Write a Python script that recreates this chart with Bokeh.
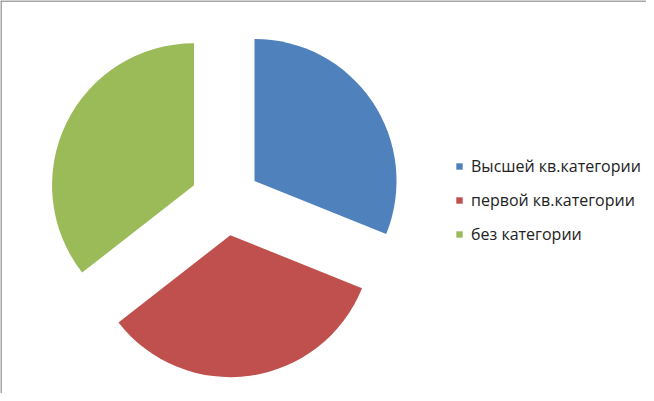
import math
from bokeh.plotting import figure
from bokeh.models import Range1d, Legend, LegendItem, Span
from bokeh.embed import file_html
from bokeh.resources import INLINE

categories = ["Высшей кв.категории", "первой кв.категории", "без категории"]
values = [14, 15, 16]
colors = ["#4F81BD", "#C0504D", "#9BBB59"]

# layout (page pixel coordinates; data y = 401 - page y)
CX, CY = 233, 401 - 208
RADIUS = 142
EXPLODE = 35

p = figure(width=646, height=393, x_range=Range1d(8, 654), y_range=Range1d(0, 393),
           output_backend="svg", toolbar_location=None, min_border=0,
           x_axis_type=None, y_axis_type=None)
p.grid.visible = False
p.outline_line_color = None
p.background_fill_color = "white"
p.border_fill_color = "white"

total = float(sum(values))
cum = 0.0
items = []
for cat, v, col in zip(categories, values, colors):
    a0 = cum / total * 2 * math.pi
    a1 = (cum + v) / total * 2 * math.pi
    mid = (a0 + a1) / 2
    cx = CX + EXPLODE * math.sin(mid)
    cy = CY + EXPLODE * math.cos(mid)
    r = p.wedge(x=[cx], y=[cy], radius=RADIUS,
                start_angle=math.pi / 2 - a0, end_angle=math.pi / 2 - a1,
                direction="clock", fill_color=col, line_color=None)
    items.append(LegendItem(label=cat, renderers=[r]))
    cum += v

legend = Legend(items=items, location=(455, 147), orientation="vertical",
                glyph_width=8, glyph_height=8, label_standoff=8, spacing=10,
                label_height=24, label_text_font="Open Sans", label_text_font_size="16px",
                label_text_color="#222222", padding=0, margin=0,
                border_line_color=None, background_fill_alpha=0)
p.add_layout(legend)

p.add_layout(Span(location=8.5, dimension="height", line_color="#888888", line_width=1.5))
p.add_layout(Span(location=392.5, dimension="width", line_color="#888888", line_width=1.5))

open("out.html", "w").write(file_html(p, INLINE))
